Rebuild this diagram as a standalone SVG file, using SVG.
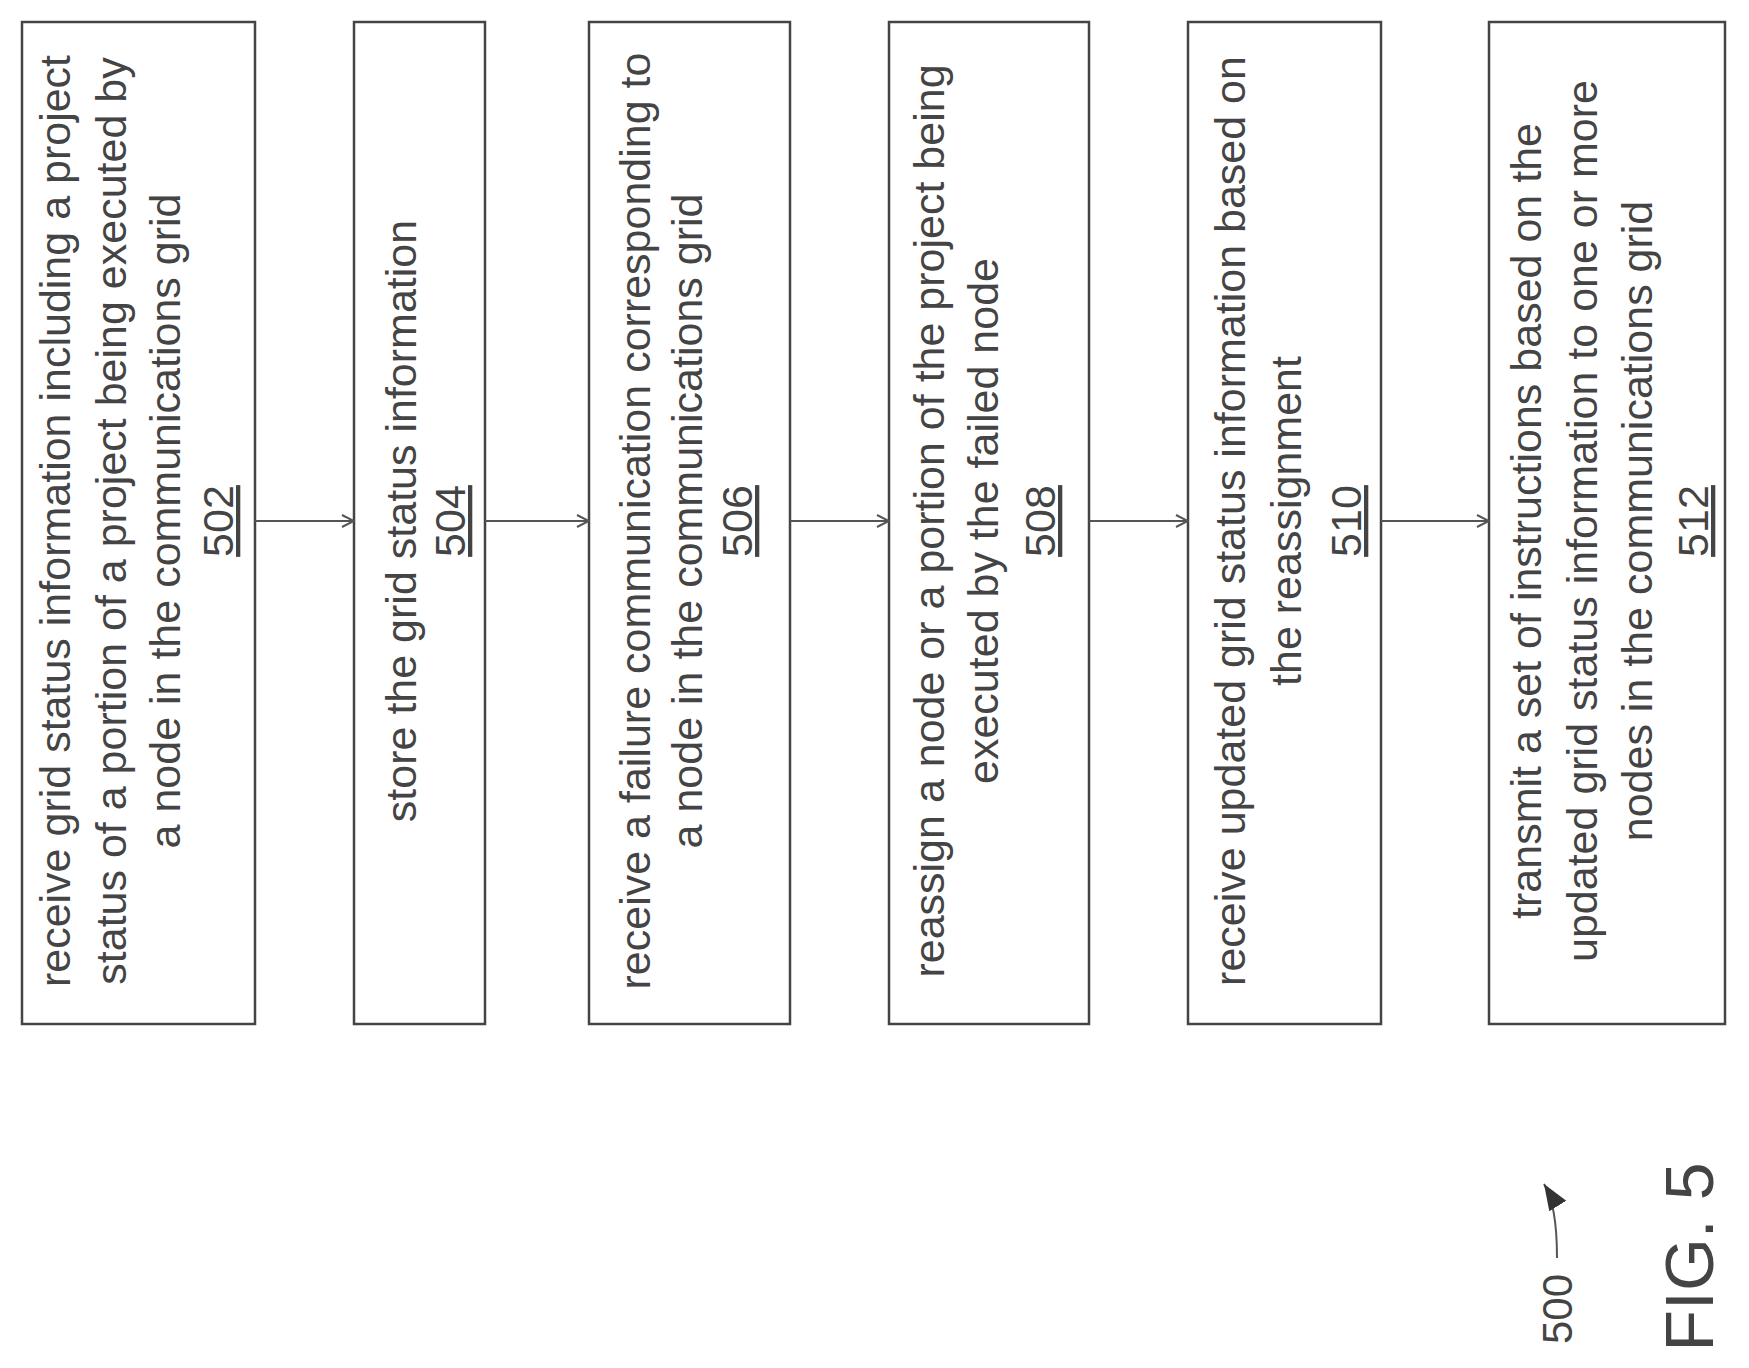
<svg xmlns="http://www.w3.org/2000/svg" width="1749" height="1368" viewBox="0 0 1749 1368">
<style>
.box{fill:#fff;stroke:#444;stroke-width:2.5}
.t{font-family:"Liberation Sans",Arial,sans-serif;font-size:43px;fill:#444;text-anchor:middle}
.n{text-decoration:underline}
.c{stroke:#555;stroke-width:2;fill:none}
</style>
<defs>
<marker id="a" markerWidth="14" markerHeight="14" refX="13" refY="7" orient="auto" markerUnits="userSpaceOnUse">
<path d="M1,1 L13,7 L1,13" fill="none" stroke="#555" stroke-width="2"/>
</marker>
<marker id="f" markerWidth="30" markerHeight="30" refX="26" refY="12" orient="auto" markerUnits="userSpaceOnUse">
<path d="M0,2 L26,12 L0,22 Z" fill="#333"/>
</marker>
</defs>
<rect width="1749" height="1368" fill="#fff"/>
<g id="n502"><rect class="box" x="22" y="22" width="233" height="1002"/>
<g transform="translate(0,521) rotate(-90)"><text class="t" x="0" y="70">receive grid status information including a project</text><text class="t" x="0" y="126">status of a portion of a project being executed by</text><text class="t" x="0" y="180">a node in the communications grid</text><text class="t n" x="0" y="233">502</text></g></g>
<g id="n504"><rect class="box" x="354" y="22" width="131" height="1002"/>
<g transform="translate(0,521) rotate(-90)"><text class="t" x="0" y="416">store the grid status information</text><text class="t n" x="0" y="465">504</text></g></g>
<g id="n506"><rect class="box" x="589" y="22" width="201" height="1002"/>
<g transform="translate(0,521) rotate(-90)"><text class="t" x="0" y="650">receive a failure communication corresponding to</text><text class="t" x="0" y="702">a node in the communications grid</text><text class="t n" x="0" y="752">506</text></g></g>
<g id="n508"><rect class="box" x="889" y="22" width="200" height="1002"/>
<g transform="translate(0,521) rotate(-90)"><text class="t" x="0" y="944">reassign a node or a portion of the project being</text><text class="t" x="0" y="998">executed by the failed node</text><text class="t n" x="0" y="1055">508</text></g></g>
<g id="n510"><rect class="box" x="1188" y="22" width="193" height="1002"/>
<g transform="translate(0,521) rotate(-90)"><text class="t" x="0" y="1245">receive updated grid status information based on</text><text class="t" x="0" y="1301">the reassignment</text><text class="t n" x="0" y="1361">510</text></g></g>
<g id="n512"><rect class="box" x="1489" y="22" width="236" height="1002"/>
<g transform="translate(0,521) rotate(-90)"><text class="t" x="0" y="1541">transmit a set of instructions based on the</text><text class="t" x="0" y="1597">updated grid status information to one or more</text><text class="t" x="0" y="1652">nodes in the communications grid</text><text class="t n" x="0" y="1708">512</text></g></g>
<g id="connectors">
<line class="c" x1="255" y1="521" x2="354" y2="521" marker-end="url(#a)"/>
<line class="c" x1="485" y1="521" x2="589" y2="521" marker-end="url(#a)"/>
<line class="c" x1="790" y1="521" x2="889" y2="521" marker-end="url(#a)"/>
<line class="c" x1="1089" y1="521" x2="1188" y2="521" marker-end="url(#a)"/>
<line class="c" x1="1381" y1="521" x2="1489" y2="521" marker-end="url(#a)"/>
<path class="c" d="M1557,1258 C1557,1225 1554,1200 1544,1184" marker-end="url(#f)"/>
</g>
<g id="label">
<text class="t" transform="translate(1572,1309) rotate(-90)" x="0" y="0" style="font-size:42px">500</text>
<text class="t" transform="translate(1713,1257) rotate(-90)" x="0" y="0" style="font-size:68px">FIG. 5</text>
</g>
</svg>
